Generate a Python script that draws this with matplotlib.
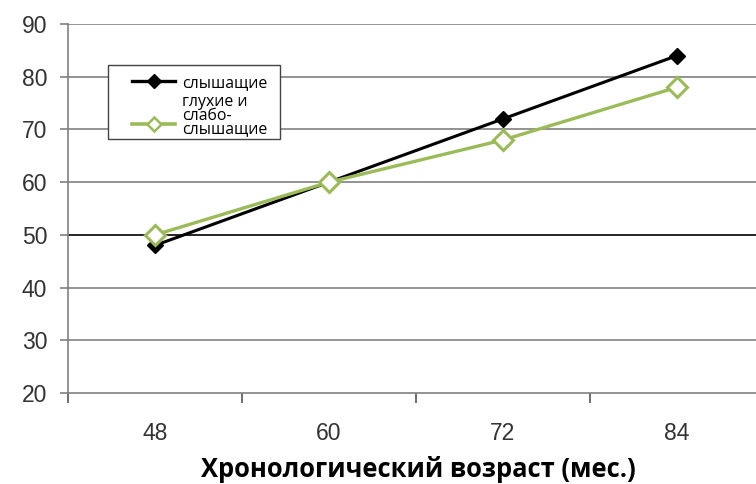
import matplotlib.pyplot as plt
from matplotlib.lines import Line2D
from matplotlib.patches import Rectangle
from matplotlib.legend_handler import HandlerLine2D

months = ["48", "60", "72", "84"]
hearing = [48, 60, 72, 84]
deaf = [50, 60, 68, 78]
labels = ["слышащие", "глухие и\nслабо-\nслышащие"]

green = "#9bbb59"


class LowHandler(HandlerLine2D):
    # puts the handle lower, next to the last lines of a multi-line label
    def create_artists(self, legend, orig_handle, xdescent, ydescent,
                       width, height, fontsize, trans):
        return super().create_artists(legend, orig_handle, xdescent,
                                      ydescent + 11, width, height,
                                      fontsize, trans)


fig = plt.figure(figsize=(7.56, 4.84), dpi=100)
ax = fig.add_axes([68 / 756, 1 - 393 / 484, 696 / 756, 369 / 484])

x = [i + 0.5 for i in range(len(months))]
ax.plot(x, hearing, color="black", lw=2.2, marker="D", ms=8, zorder=3)
ax.plot(x, deaf, color=green, lw=2.4, marker="D", ms=10, mfc="white",
        mec=green, mew=2.2, zorder=4)

ax.set_xlim(0, 4)
ax.set_ylim(20, 90)
ax.set_yticks(range(20, 91, 10))
ax.set_xticks(x)
ax.set_xticklabels(months)
ax.set_xticks(range(0, 5), minor=True)

# horizontal gridlines, the 50 line is drawn darker
for v in range(30, 91, 10):
    c = "black" if v == 50 else "#808080"
    ax.axhline(v, color=c, lw=1.2, zorder=1)

for s in ["top", "right"]:
    ax.spines[s].set_visible(False)
ax.spines["left"].set_color("#808080")
ax.spines["bottom"].set_color("#808080")
ax.spines["left"].set_linewidth(1.2)
ax.spines["bottom"].set_linewidth(1.2)

ax.tick_params(axis="y", length=6, width=1.2, color="#808080", pad=9,
               labelsize=16.5, labelcolor="#333333")
ax.tick_params(axis="x", which="major", length=0, pad=21,
               labelsize=16.5, labelcolor="#333333")
ax.tick_params(axis="x", which="minor", length=7, width=1.2, color="#555555")
for t in ax.get_xticklabels() + ax.get_yticklabels():
    t.set_fontfamily("Liberation Sans")

ax.set_xlabel("Хронологический возраст (мес.)", fontsize=18.4, fontweight="bold",
              fontfamily="Open Sans")
ax.xaxis.set_label_coords((418 - 68) / 696, -0.171)

# legend box
box = Rectangle((108 / 756, 1 - 139 / 484), 172 / 756, 74 / 484,
                transform=fig.transFigure, facecolor="white",
                edgecolor="#444444", lw=1.0, zorder=2)
fig.patches.append(box)

handles = [
    Line2D([], [], color="black", lw=2.4, marker="D", ms=7),
    Line2D([], [], color=green, lw=2.6, marker="D", ms=7, mfc="white",
           mec=green, mew=1.8),
]
leg = fig.legend(handles, labels, loc="upper left",
                 bbox_to_anchor=(132 / 756, 1 - 75 / 484),
                 frameon=False, handlelength=2.72, borderpad=0,
                 borderaxespad=0, labelspacing=0.22, handletextpad=0.44,
                 prop={"family": "Open Sans", "size": 11.4},
                 handler_map={handles[1]: LowHandler()})
for t in leg.get_texts():
    t.set_linespacing(0.78)

fig.savefig("out.png", dpi=100)
